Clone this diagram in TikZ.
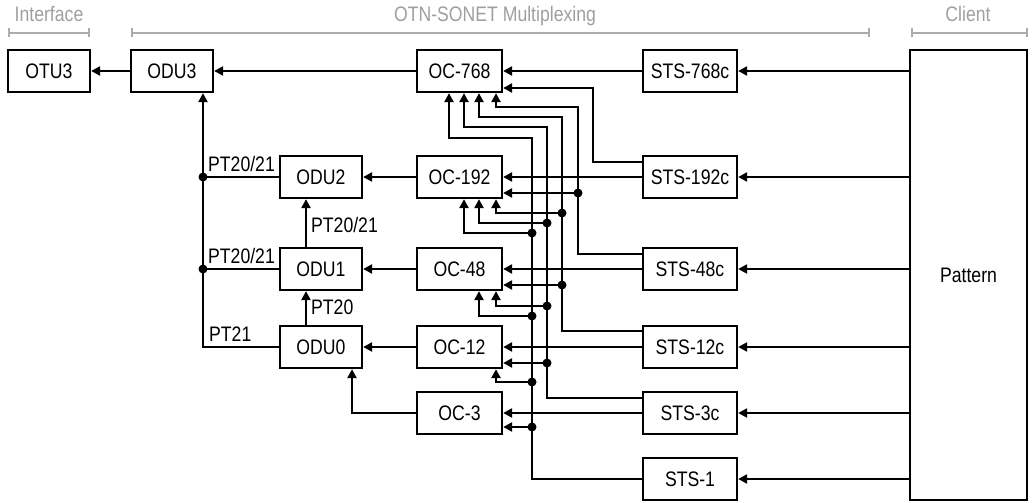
\documentclass[tikz,border=0pt]{standalone}
\usepackage{fontspec}
\setmainfont{Liberation Sans}[FakeStretch=0.84]
\usetikzlibrary{arrows.meta,calc}
\begin{document}
\begin{tikzpicture}[x=1pt,y=-1pt,
  font=\fontsize{21}{24}\selectfont,
  line width=2.3pt,
  box/.style={draw, line width=2.3pt, minimum height=42pt, inner sep=0pt},
  smallbox/.style={box, minimum width=82pt},
  ocbox/.style={box, minimum width=85pt},
  stsbox/.style={box, minimum width=94pt},
  arr/.style={-{Triangle[length=9pt,width=9pt]}},
  dot/.style={fill=black},
  hdr/.style={text=gray!75, anchor=base},
  brk/.style={draw=gray!65, line width=1.8pt, {Bar[width=9pt,line width=1.8pt]}-{Bar[width=9pt,line width=1.8pt]}},
  lbl/.style={inner sep=0pt}]
\useasboundingbox (0,0) rectangle (1034,503);

% headers
\node[hdr] (hif) at (49,22) {Interface};
\node[hdr] (hotn) at (495,22) {OTN-SONET Multiplexing};
\node[hdr] (hcl) at (968,22) {Client};
\draw[brk] (8,33) -- (90,33);
\draw[brk] (131,33) -- (870,33);
\draw[brk] (911,33) -- (1028,33);

% nodes
\node[smallbox] (otu3) at (49,71) {OTU3};
\node[smallbox] (odu3) at (172,71) {ODU3};
\node[smallbox] (odu2) at (321,177) {ODU2};
\node[smallbox] (odu1) at (321,269) {ODU1};
\node[smallbox] (odu0) at (321,347) {ODU0};

\node[ocbox] (oc768) at (459.5,71) {OC-768};
\node[ocbox] (oc192) at (459.5,177) {OC-192};
\node[ocbox] (oc48) at (459.5,269) {OC-48};
\node[ocbox] (oc12) at (459.5,347) {OC-12};
\node[ocbox] (oc3) at (459.5,413) {OC-3};

\node[stsbox] (sts768) at (690,71) {STS-768c};
\node[stsbox] (sts192) at (690,177) {STS-192c};
\node[stsbox] (sts48) at (690,269) {STS-48c};
\node[stsbox] (sts12) at (690,347) {STS-12c};
\node[stsbox] (sts3) at (690,413) {STS-3c};
\node[stsbox] (sts1) at (690,479) {STS-1};

\node[draw, line width=2.3pt, minimum width=117pt, minimum height=450pt, inner sep=0pt] (pattern) at (968.5,275) {Pattern};

% pattern -> STS
\foreach \s in {sts768,sts192,sts48,sts12,sts3,sts1}
  \draw[arr] (pattern.west |- \s.east) -- (\s.east);

% STS direct -> OC
\draw[arr] (sts768.west) -- (oc768.east);
\draw[arr] (sts192.west) -- (oc192.east);
\draw[arr] (sts48.west) -- (oc48.east);
\draw[arr] (sts12.west) -- (oc12.east);
\draw[arr] (sts3.west) -- (oc3.east);

% coordinates for the cross-connect
\coordinate (va) at (532,0);
\coordinate (vb) at (547,0);
\coordinate (vc) at (562,0);
\coordinate (vd) at (578,0);
\coordinate (ve) at (593,0);
\coordinate (c1) at (449,0);
\coordinate (c2) at (464,0);
\coordinate (c3) at (479,0);
\coordinate (c4) at (496,0);
\coordinate (i768) at ($(oc768.east)+(0,17)$);
\coordinate (i192) at ($(oc192.east)+(0,16)$);
\coordinate (i48) at ($(oc48.east)+(0,16)$);
\coordinate (i12) at ($(oc12.east)+(0,16)$);
\coordinate (i3) at ($(oc3.east)+(0,14)$);

% STS-192c
\draw[arr] ($(sts192.west)+(0,-15)$) -| (ve |- i768) -- (i768);
% STS-48c
\draw[arr] ($(sts48.west)+(0,-15)$) -| (578,107) -| (c4 |- oc768.south);
\draw[arr] (vd |- i192) -- (i192);
\fill[dot] (vd |- i192) circle (4.5pt);
% STS-12c
\draw[arr] ($(sts12.west)+(0,-16)$) -| (562,117) -| (c3 |- oc768.south);
\draw[arr] (vc |- i48) -- (i48);
\fill[dot] (vc |- i48) circle (4.5pt);
\draw[arr] (562,213) -| (c4 |- oc192.south);
\fill[dot] (562,213) circle (4.5pt);
% STS-3c
\draw[arr] ($(sts3.west)+(0,-15)$) -| (547,127) -| (c2 |- oc768.south);
\draw[arr] (vb |- i12) -- (i12);
\fill[dot] (vb |- i12) circle (4.5pt);
\draw[arr] (547,306) -| (c4 |- oc48.south);
\fill[dot] (547,306) circle (4.5pt);
\draw[arr] (547,223) -| (c3 |- oc192.south);
\fill[dot] (547,223) circle (4.5pt);
% STS-1
\draw[arr] (sts1.west) -| (532,138) -| (c1 |- oc768.south);
\draw[arr] (va |- i3) -- (i3);
\fill[dot] (va |- i3) circle (4.5pt);
\draw[arr] (532,382) -| (c4 |- oc12.south);
\fill[dot] (532,382) circle (4.5pt);
\draw[arr] (532,316) -| (c3 |- oc48.south);
\fill[dot] (532,316) circle (4.5pt);
\draw[arr] (532,233) -| (c2 |- oc192.south);
\fill[dot] (532,233) circle (4.5pt);

% OC -> ODU
\draw[arr] (oc768.west) -- (odu3.east);
\draw[arr] (oc192.west) -- (odu2.east);
\draw[arr] (oc48.west) -- (odu1.east);
\draw[arr] (oc12.west) -- (odu0.east);
\draw[arr] (oc3.west) -| ([xshift=31pt]odu0.south);
\draw[arr] (odu3.west) -- (otu3.east);

% ODU hierarchy
\coordinate (bus) at ([xshift=31pt]odu3.south);
\draw[arr] ([xshift=-15pt]odu0.north) -- ([xshift=-15pt]odu1.south)
  node[lbl, midway, anchor=west, xshift=4pt, yshift=1pt] {PT20};
\draw[arr] ([xshift=-15pt]odu1.north) -- ([xshift=-15pt]odu2.south)
  node[lbl, midway, anchor=west, xshift=4pt, yshift=-2pt] {PT20/21};
\draw[arr] (odu0.west) -| (bus);
\node[lbl, anchor=base west] (l21) at ($(bus |- odu0.west)+(5,-6)$) {PT21};
\draw (odu1.west) -- (odu1.west -| bus);
\fill[dot] (odu1.west -| bus) circle (4.5pt);
\node[lbl, anchor=base west] (l1) at ($(bus |- odu1.west)+(4,-6)$) {PT20/21};
\draw (odu2.west) -- (odu2.west -| bus);
\fill[dot] (odu2.west -| bus) circle (4.5pt);
\node[lbl, anchor=base west] (l2) at ($(bus |- odu2.west)+(4,-6)$) {PT20/21};
\end{tikzpicture}
\end{document}
